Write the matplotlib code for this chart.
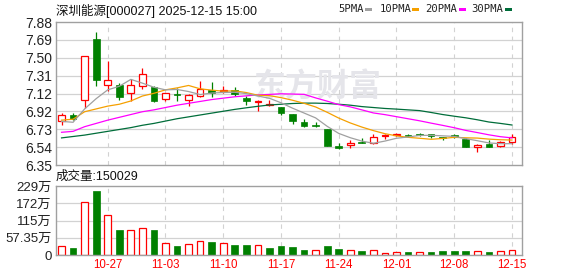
import matplotlib
matplotlib.use('Agg')
import matplotlib.pyplot as plt
import matplotlib.patches as mpatches
import numpy as np
import pandas as pd

plt.rcParams['font.family'] = ['Liberation Sans', 'Noto Sans CJK SC', 'DejaVu Sans']

# ─── Data (daily K, 2025-10-21 .. 2025-12-15) ───
TITLE = '深圳能源[000027] 2025-12-15 15:00'
VOL_TITLE = '成交量:150029'

dates = pd.bdate_range('2025-10-21', '2025-12-15')

opens = [6.82, 6.89, 7.05, 7.70, 7.21, 7.21, 7.12, 7.19, 7.18, 7.06,
         7.11, 7.05, 7.09, 7.15, 7.14, 7.15, 7.07, 7.02, 6.99, 6.97,
         6.90, 6.81, 6.78, 6.74, 6.55, 6.56, 6.60, 6.59, 6.66, 6.67,
         6.67, 6.68, 6.68, 6.65, 6.67, 6.63, 6.54, 6.57, 6.55, 6.60]
closes = [6.89, 6.84, 7.52, 7.26, 7.26, 7.08, 7.21, 7.32, 7.04, 7.12,
          7.10, 7.10, 7.16, 7.12, 7.15, 7.11, 7.03, 7.03, 7.00, 6.91,
          6.82, 6.77, 6.77, 6.55, 6.53, 6.59, 6.59, 6.65, 6.67, 6.68,
          6.66, 6.67, 6.66, 6.64, 6.65, 6.54, 6.56, 6.54, 6.60, 6.65]
highs = [6.91, 6.91, 7.52, 7.77, 7.46, 7.23, 7.27, 7.39, 7.19, 7.12,
         7.17, 7.11, 7.25, 7.24, 7.19, 7.18, 7.09, 7.05, 7.05, 6.97,
         6.90, 6.84, 6.81, 6.74, 6.59, 6.62, 6.64, 6.68, 6.68, 6.69,
         6.68, 6.69, 6.68, 6.65, 6.68, 6.64, 6.58, 6.62, 6.61, 6.68]
lows = [6.78, 6.83, 6.96, 7.20, 7.14, 7.05, 7.04, 7.16, 7.02, 7.03,
        7.04, 6.98, 7.08, 7.08, 7.12, 7.09, 6.99, 6.93, 6.98, 6.89,
        6.79, 6.76, 6.76, 6.55, 6.52, 6.53, 6.59, 6.57, 6.63, 6.66,
        6.65, 6.66, 6.64, 6.62, 6.64, 6.54, 6.49, 6.54, 6.54, 6.58]

ma5 = [6.817, 6.807, 6.950, 7.060, 7.154, 7.192, 7.266, 7.226, 7.182, 7.154,
       7.158, 7.136, 7.104, 7.120, 7.126, 7.128, 7.114, 7.088, 7.064, 7.016,
       6.958, 6.906, 6.854, 6.764, 6.688, 6.642, 6.606, 6.582, 6.606, 6.636,
       6.650, 6.666, 6.668, 6.662, 6.656, 6.632, 6.610, 6.586, 6.578, 6.578]
ma10 = [6.830, 6.840, 6.920, 6.950, 6.980, 7.000, 7.035, 7.088, 7.117, 7.154,
        7.175, 7.201, 7.165, 7.151, 7.140, 7.143, 7.125, 7.096, 7.092, 7.071,
        7.043, 7.010, 6.971, 6.914, 6.852, 6.800, 6.756, 6.718, 6.685, 6.662,
        6.646, 6.636, 6.625, 6.634, 6.646, 6.641, 6.638, 6.627, 6.620, 6.617]
ma20 = [6.700, 6.710, 6.760, 6.795, 6.830, 6.860, 6.890, 6.920, 6.940, 6.965,
        6.990, 7.010, 7.030, 7.050, 7.065, 7.080, 7.090, 7.100, 7.105, 7.112,
        7.109, 7.106, 7.068, 7.033, 6.996, 6.972, 6.940, 6.907, 6.889, 6.867,
        6.845, 6.823, 6.798, 6.774, 6.749, 6.720, 6.697, 6.673, 6.653, 6.640]
ma30 = [6.640, 6.655, 6.670, 6.690, 6.710, 6.730, 6.750, 6.775, 6.795, 6.820,
        6.845, 6.865, 6.885, 6.905, 6.925, 6.945, 6.962, 6.978, 6.992, 7.000,
        7.008, 7.012, 7.012, 7.008, 7.000, 6.990, 6.975, 6.965, 6.955, 6.948,
        6.940, 6.932, 6.912, 6.890, 6.872, 6.855, 6.834, 6.810, 6.795, 6.778]

# volume in 万 (10k), colour flag: 1 = red (hollow), 0 = green
volume = [29, 23, 175, 213, 132, 83, 82, 89, 83, 39,
          30, 37, 45, 43, 39, 33, 33, 32, 23, 30,
          27, 17, 16, 30, 20, 16, 13, 16, 7, 10,
          10, 10, 10, 13, 13, 13, 13, 10, 13, 15]
volume_up = [1, 0, 1, 0, 1, 0, 1, 1, 0, 1,
             0, 1, 1, 0, 1, 0, 0, 1, 0, 0,
             0, 0, 1, 0, 0, 1, 0, 1, 1, 1,
             0, 1, 0, 0, 0, 0, 1, 0, 1, 1]

price_ticks = ['6.35', '6.54', '6.73', '6.92', '7.12', '7.31', '7.50', '7.69', '7.88']
vol_ticks = ['0', '57.35万', '115万', '172万', '229万']
P_MIN, P_MAX = 6.35, 7.88
V_MAX = 229.4

ma_names = ['5PMA', '10PMA', '20PMA', '30PMA']

# ─── Style ───
RED = '#ff0000'
GREEN = '#008000'
GRID = '#d2d2d2'
BORDER = '#a0a0a0'
MA_COLORS = ['#a0a0a0', '#f5a000', '#ff00ff', '#006d3a']
W, H = 578, 276


def fx(px):
    return px / W


def fy(py):
    return 1 - py / H


fig = plt.figure(figsize=(W / 100, H / 100), dpi=100)
fig.patch.set_facecolor('white')

ax = fig.add_axes([fx(56), fy(165), fx(466), 143 / H])
axv = fig.add_axes([fx(56), fy(255), fx(466), 69 / H])

x = np.arange(len(dates))
o = np.array(opens)
c = np.array(closes)
h = np.array(highs)
l = np.array(lows)
up = c >= o
body_lo = np.minimum(o, c)
body_hi = np.maximum(o, c)
body_h = np.maximum(body_hi - body_lo, 0.005)

mondays = [i for i, d in enumerate(dates) if d.weekday() == 0]

for a in (ax, axv):
    a.set_xlim(-0.48, len(x) - 1 + 0.87)
    a.set_axisbelow(True)
    for s in a.spines.values():
        s.set_color(BORDER)
        s.set_linewidth(1.0)
    a.tick_params(length=0)
    for i in mondays:
        a.axvline(i, color=GRID, lw=0.8, ls=(0, (4, 4)), zorder=0.5)

# ─── Price panel ───
ax.set_ylim(P_MIN, P_MAX)
yt = np.linspace(P_MIN, P_MAX, len(price_ticks))
ax.set_yticks(yt)
ax.set_yticklabels(price_ticks, fontsize=10, color='#222222')
ax.tick_params(axis='y', pad=3)
ax.set_xticks([])
for v in yt[1:-1]:
    ax.axhline(v, color=GRID, lw=0.9, zorder=0.5)

# faint watermark
ax.text(0.56, 0.54, '东方财富', transform=ax.transAxes, fontsize=23,
        fontweight='bold', color='#e5e5ea', ha='center', va='center',
        family=['Noto Sans CJK SC'], zorder=0.6)

bw = 0.58
ax.vlines(x[up], body_hi[up], h[up], color=RED, lw=0.9, zorder=2)
ax.vlines(x[up], l[up], body_lo[up], color=RED, lw=0.9, zorder=2)
ax.vlines(x[~up], l[~up], h[~up], color=GREEN, lw=0.9, zorder=2)
ax.bar(x[up], body_h[up], bottom=body_lo[up], width=bw, facecolor='white',
       edgecolor=RED, linewidth=0.9, zorder=2.1)
ax.bar(x[~up], body_h[~up], bottom=body_lo[~up], width=bw, facecolor=GREEN,
       edgecolor=GREEN, linewidth=0.5, zorder=2.1)

for vals, col in zip([ma30, ma20, ma10, ma5], MA_COLORS[::-1]):
    ax.plot(x, vals, color=col, lw=0.9, zorder=3)

# ─── Volume panel ───
axv.set_ylim(0, V_MAX)
vt = np.linspace(0, V_MAX, len(vol_ticks))
axv.set_yticks(vt)
axv.set_yticklabels(vol_ticks, fontsize=9.5, color='#222222')
axv.tick_params(axis='y', pad=3)
for v in vt[1:-1]:
    axv.axhline(v, color=GRID, lw=0.9, zorder=0.5)

vol = np.array(volume, dtype=float)
vup = np.array(volume_up) == 1
axv.bar(x[vup], vol[vup], width=bw, facecolor='white', edgecolor=RED,
        linewidth=0.9, zorder=2)
axv.bar(x[~vup], vol[~vup], width=bw, facecolor=GREEN, edgecolor=GREEN,
        linewidth=0.5, zorder=2)

axv.set_xticks(mondays)
axv.set_xticklabels([dates[i].strftime('%m-%d') for i in mondays],
                    fontsize=8.3, color=RED)
axv.tick_params(axis='x', pad=3)

# ─── Titles and legend ───
fig.text(fx(56), fy(11), TITLE, fontsize=9, color='#111111', va='center',
         ha='left')
fig.text(fx(56), fy(177), VOL_TITLE, fontsize=9, color='#111111', va='center',
         ha='left')

leg_x = [338, 380, 425, 471]
dash_x = [365, 412, 459, 505]
for name, lx, dx, col in zip(ma_names, leg_x, dash_x, MA_COLORS):
    fig.text(fx(lx), fy(9.5), name, fontsize=7.6, color='#222222',
             va='center', ha='left', family=['DejaVu Sans Mono'])
    fig.add_artist(mpatches.Rectangle((fx(dx), fy(11)), fx(7), 3 / H,
                                      transform=fig.transFigure,
                                      facecolor=col, edgecolor='none'))

fig.savefig('out.png', dpi=100, facecolor='white')
